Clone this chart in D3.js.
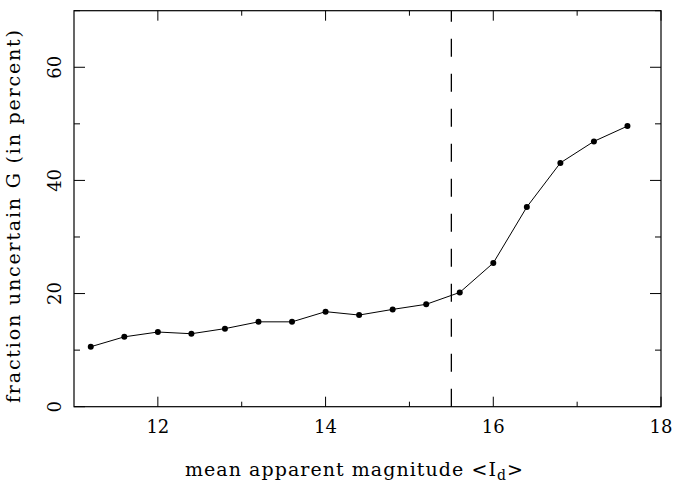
<!DOCTYPE html>
<html><head><meta charset="utf-8">
<script src="https://cdn.jsdelivr.net/npm/d3@7"></script>
<style>
html,body{margin:0;padding:0;background:#fff;}
text{font-family:"DejaVu Serif",serif;fill:#000;}
</style></head>
<body><svg id="c" width="675" height="482"></svg>
<script>
const magnitudes = [11.2, 11.6, 12.0, 12.4, 12.8, 13.2, 13.6, 14.0, 14.4, 14.8, 15.2, 15.6, 16.0, 16.4, 16.8, 17.2, 17.6];
const fractionUncertain = [10.6, 12.35, 13.2, 12.9, 13.8, 15.0, 15.0, 16.8, 16.2, 17.2, 18.1, 20.2, 25.4, 35.3, 43.1, 46.9, 49.6];
const xMajorTicks = [12, 14, 16, 18];
const xMinorTicks = [13, 15, 17];
const yMajorTicks = [0, 20, 40, 60];
const yMinorTicks = [10, 30, 50, 70];
const cutoffMag = 15.5;

const svg = d3.select("#c");
const L = 74, R = 661, T = 10.7, B = 406.7;
const x = d3.scaleLinear().domain([11, 18]).range([L, R]);
const y = d3.scaleLinear().domain([0, 70]).range([B, T]);

// frame
svg.append("rect").attr("x", L).attr("y", T).attr("width", R - L).attr("height", B - T)
  .attr("fill", "none").attr("stroke", "#000").attr("stroke-width", 1.2);

// ticks (inward, all four sides)
const tg = svg.append("g").attr("stroke", "#000").attr("stroke-width", 1);
function xt(vals, len) {
  vals.forEach(v => {
    tg.append("line").attr("x1", x(v)).attr("x2", x(v)).attr("y1", B).attr("y2", B - len);
    tg.append("line").attr("x1", x(v)).attr("x2", x(v)).attr("y1", T).attr("y2", T + len);
  });
}
function yt(vals, len) {
  vals.forEach(v => {
    tg.append("line").attr("y1", y(v)).attr("y2", y(v)).attr("x1", L).attr("x2", L + len);
    tg.append("line").attr("y1", y(v)).attr("y2", y(v)).attr("x1", R).attr("x2", R - len);
  });
}
xt(xMajorTicks, 10); xt(xMinorTicks, 5);
yt(yMajorTicks, 11); yt(yMinorTicks, 6);

// tick labels
svg.append("g").selectAll("text").data(xMajorTicks).join("text")
  .attr("x", d => x(d)).attr("y", 433).attr("text-anchor", "middle")
  .style("font-size", "18px").text(d => d);
svg.append("g").selectAll("text").data(yMajorTicks).join("text")
  .attr("transform", d => `translate(61,${y(d)}) rotate(-90)`)
  .attr("text-anchor", "middle").style("font-size", "18px").text(d => d);

// dashed cutoff line
svg.append("line").attr("x1", x(cutoffMag)).attr("x2", x(cutoffMag))
  .attr("y1", y(0)).attr("y2", y(70))
  .attr("stroke", "#000").attr("stroke-width", 1.3).attr("stroke-dasharray", "18,17");

// data line + points
const pts = magnitudes.map((m, i) => [m, fractionUncertain[i]]);
svg.append("path").datum(pts)
  .attr("d", d3.line().x(d => x(d[0])).y(d => y(d[1])))
  .attr("fill", "none").attr("stroke", "#000").attr("stroke-width", 1);
svg.append("g").selectAll("circle").data(pts).join("circle")
  .attr("cx", d => x(d[0])).attr("cy", d => y(d[1])).attr("r", 3).attr("fill", "#000");

// axis titles
const xl = svg.append("text").attr("x", 185).attr("y", 476).style("font-size", "19px")
  .style("letter-spacing", "1.05px");
xl.append("tspan").text("mean apparent magnitude <I");
xl.append("tspan").attr("dy", 4).style("font-size", "14px").text("d");
xl.append("tspan").attr("dy", -4).text(">");

svg.append("text").attr("transform", "translate(20,216.5) rotate(-90)")
  .attr("text-anchor", "middle").style("font-size", "19px")
  .attr("textLength", 373).attr("lengthAdjust", "spacing")
  .text("fraction uncertain G (in percent)");
</script></body></html>
